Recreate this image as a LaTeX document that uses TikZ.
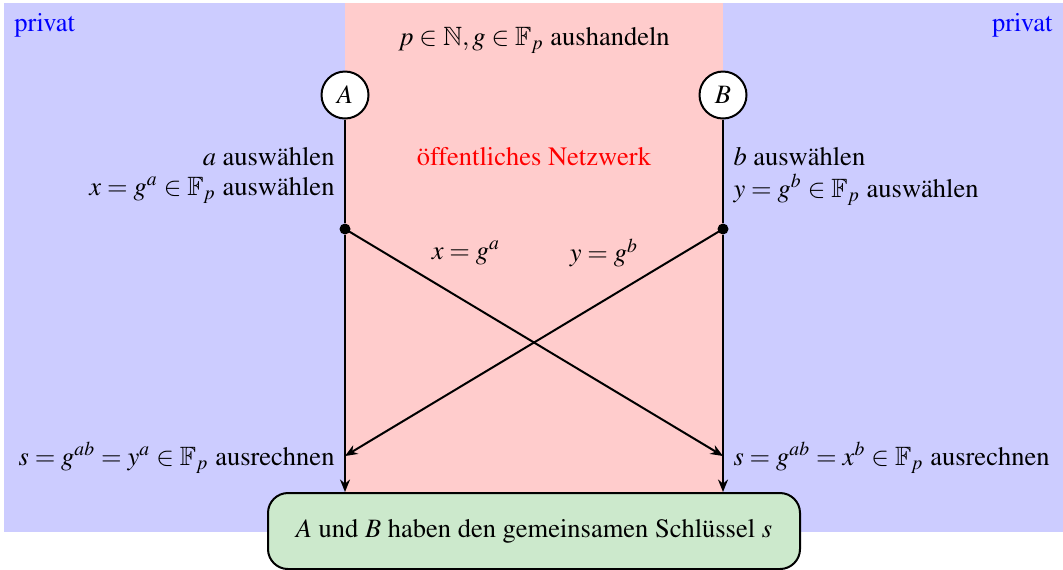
\documentclass[tikz,border=0pt]{standalone}
\usepackage[T1]{fontenc}
\usepackage{amssymb}
\usepackage{mathptmx}
\usetikzlibrary{arrows.meta}
\definecolor{boxgreen}{RGB}{204,233,204}
\begin{document}
\begin{tikzpicture}[x=0.4pt,y=-0.4pt,font=\fontsize{10.6pt}{13pt}\selectfont,
  party/.style={circle,draw,thick,fill=white,minimum size=18.8pt,inner sep=0pt},
  dotnode/.style={circle,fill=black,inner sep=0pt,minimum size=4.4pt},
  lbl/.style={inner sep=0pt},
  flow/.style={thick,-{Stealth[length=5pt,width=4pt]}},
  result/.style={draw,thick,rounded corners=8pt,fill=boxgreen,minimum width=212.8pt,minimum height=30.4pt}]
\useasboundingbox (0,0) rectangle (1063,569);
\fill[blue!20] (4,3) rectangle (1063,532);
\fill[red!20] (345,3) rectangle (723,532);
\node[lbl,blue,anchor=west] (pl) at (14,25) {privat};
\node[lbl,blue,anchor=east] (pr) at (1053,25) {privat};
\node[lbl] (neg) at (534,40) {$p\in\mathbb{N}, g\in\mathbb{F}_p$ aushandeln};
\node[party] (A) at (345,95) {$A$};
\node[party] (B) at (723,95) {$B$};
\node[lbl,red] (net) at (534,157) {öffentliches Netzwerk};
\node[lbl,anchor=east] (a1) at (335,157) {$a$ auswählen};
\node[lbl,anchor=east] (a2) at (335,190) {$x=g^a\in\mathbb{F}_p$ auswählen};
\node[lbl,anchor=west] (b1) at (733,157) {$b$ auswählen};
\node[lbl,anchor=west] (b2) at (733,190) {$y=g^b\in\mathbb{F}_p$ auswählen};
\node[dotnode] (da) at (345,229) {};
\node[dotnode] (db) at (723,229) {};
\node[lbl] (mx) at (466,253) {$x=g^a$};
\node[lbl] (my) at (604,253) {$y=g^b$};
\coordinate (ea) at (345,456);
\coordinate (eb) at (723,456);
\node[lbl,anchor=east] (sa) at (335,458) {$s=g^{ab}=y^a\in\mathbb{F}_p$ ausrechnen};
\node[lbl,anchor=west] (sb) at (733,458) {$s=g^{ab}=x^b\in\mathbb{F}_p$ ausrechnen};
\node[result] (R) at (534,531) {$A$ und $B$ haben den gemeinsamen Schlüssel $s$};
\draw[thick] (A) -- (da);
\draw[thick] (B) -- (db);
\draw[flow] (da) -- (R.north -| da);
\draw[flow] (db) -- (R.north -| db);
\draw[flow] (da.center) -- (eb);
\draw[flow] (db.center) -- (ea);
\end{tikzpicture}
\end{document}
